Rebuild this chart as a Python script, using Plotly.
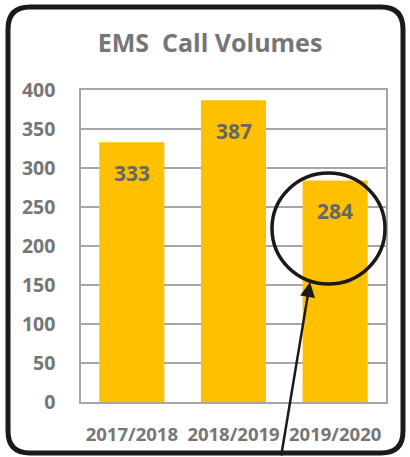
import plotly.graph_objects as go

categories = ["2017/2018", "2018/2019", "2019/2020"]
values = [333, 387, 284]
y_ticks = [0, 50, 100, 150, 200, 250, 300, 350, 400]

W, H = 410, 457
L, R, T, B = 81, 24, 90, 55
PW, PH = W - L - R, H - T - B
FONT = "Open Sans"
GRAY = "#767676"

def px(x):
    return (x - L) / PW

def py(y):
    return (H - B - y) / PH

fig = go.Figure()
fig.add_trace(go.Bar(x=categories, y=values, marker_color="#FFC000",
                     marker_line_width=0, width=0.64))

for c, v in zip(categories, values):
    fig.add_annotation(x=c, y=v, text=f"<b>{v}</b>", showarrow=False,
                       yshift=-31, font=dict(family=FONT, size=21, color="#676767"))

# rounded outer frame
x0, x1, y0, y1, r = 8, 403, 7, 453, 22
path = (f"M {px(x0+r)} {py(y0)} L {px(x1-r)} {py(y0)} Q {px(x1)} {py(y0)} {px(x1)} {py(y0+r)} "
        f"L {px(x1)} {py(y1-r)} Q {px(x1)} {py(y1)} {px(x1-r)} {py(y1)} "
        f"L {px(x0+r)} {py(y1)} Q {px(x0)} {py(y1)} {px(x0)} {py(y1-r)} "
        f"L {px(x0)} {py(y0+r)} Q {px(x0)} {py(y0)} {px(x0+r)} {py(y0)} Z")
fig.add_shape(type="path", path=path, xref="paper", yref="paper",
              line=dict(color="#1a1a1a", width=5))

# highlight circle
fig.add_shape(type="circle", xref="paper", yref="paper",
              x0=px(272), x1=px(385), y0=py(284), y1=py(173),
              line=dict(color="#1a1a1a", width=3.5))

# arrow
fig.add_annotation(x=px(310), y=py(282), xref="paper", yref="paper",
                   ax=-29, ay=176, showarrow=True, arrowhead=2, arrowsize=1.2,
                   arrowwidth=2.5, arrowcolor="#1a1a1a", text="")

fig.update_layout(
    width=W, height=H,
    margin=dict(l=L, r=R, t=T, b=B),
    paper_bgcolor="white", plot_bgcolor="white",
    title=dict(text="<b>EMS  Call Volumes</b>", xref="container", x=210 / W,
               xanchor="center", yref="container", y=1 - 43 / H, yanchor="middle",
               font=dict(family=FONT, size=25, color=GRAY)),
    showlegend=False,
    bargap=0.36,
    xaxis=dict(showgrid=False, showline=True, mirror=True, linecolor="#a6a6a6",
               linewidth=1.5, ticks="", ticklabelstandoff=15,
               tickfont=dict(family=FONT, size=18.5, color=GRAY)),
    yaxis=dict(range=[0, 400], tickvals=y_ticks, ticktext=[f"<b>{t}</b>" for t in y_ticks],
               showgrid=True, gridcolor="#a6a6a6", gridwidth=1.5,
               showline=True, mirror=True, linecolor="#a6a6a6", linewidth=1.5,
               zeroline=False, ticks="", ticklabelstandoff=20,
               tickfont=dict(family=FONT, size=19.5, color=GRAY)),
)
fig.update_xaxes(ticktext=[f"<b>{c}</b>" for c in categories], tickvals=categories)

fig.write_html("out.html")
